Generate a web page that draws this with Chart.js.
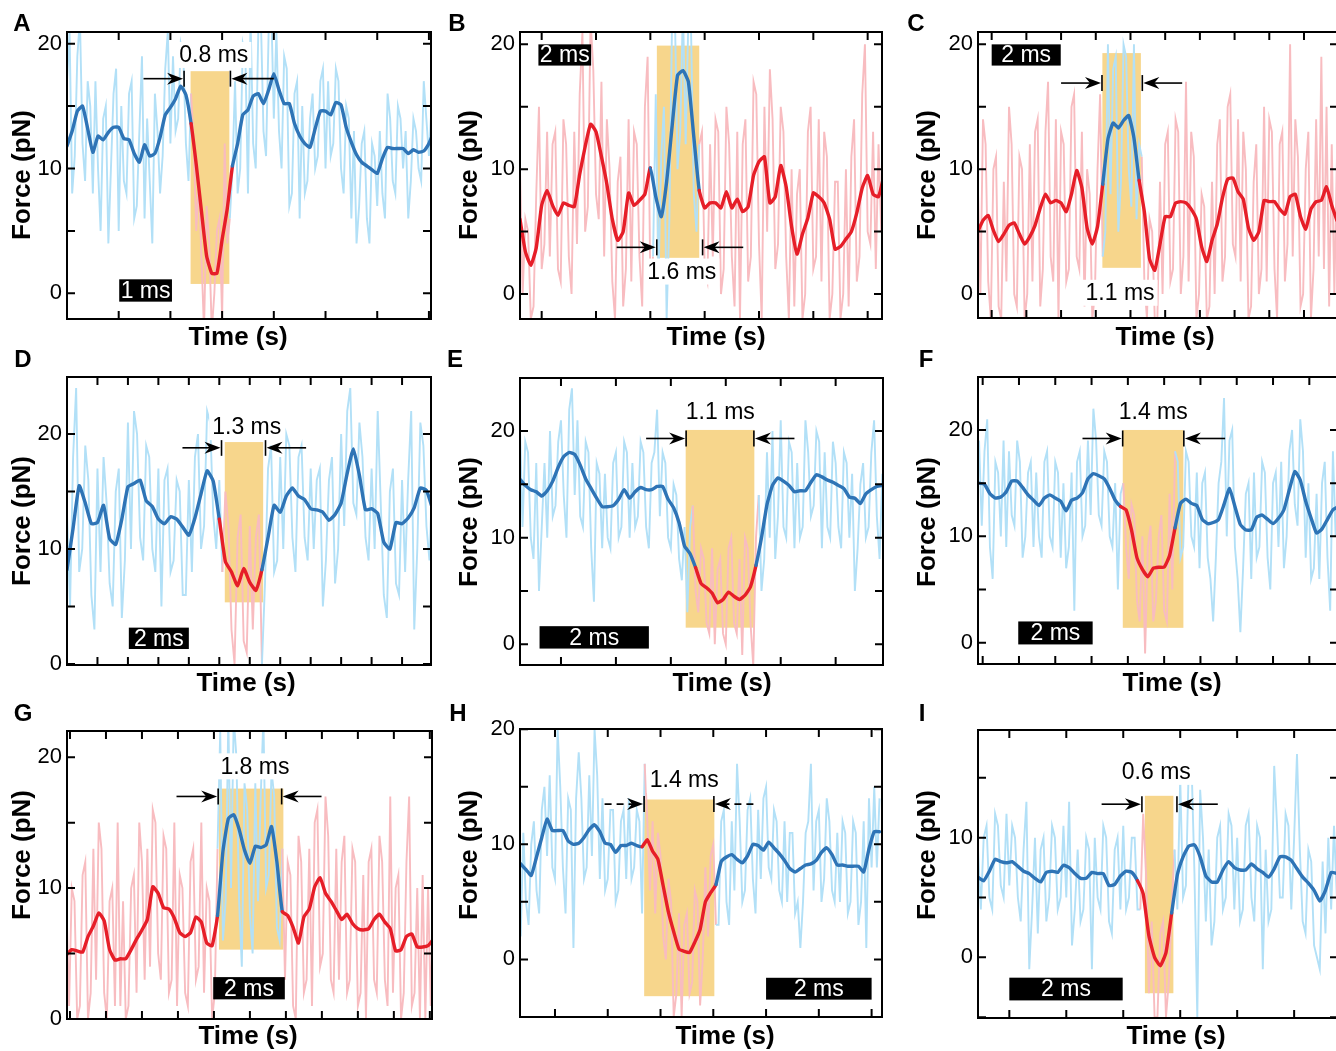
<!DOCTYPE html>
<html>
<head>
<meta charset="utf-8">
<script src="https://cdn.jsdelivr.net/npm/chart.js@4.4.1/dist/chart.umd.min.js"></script>
<style>
  body { margin: 0; background: #fff; width: 1336px; height: 1051px; overflow: hidden; position: relative; }
  canvas { position: absolute; }
</style>
</head>
<body>
<script>
// ---- force traces (pN), sampled on a uniform time grid (ms) ----
const aSmooth = [11.8,13.0,14.6,15.0,13.2,11.3,12.6,12.3,12.9,13.3,13.3,12.4,12.3,11.2,10.5,11.9,11.0,11.2,12.5,14.3,14.9,15.6,16.6,15.9,13.6,10.3,6.6,3.0,1.6,1.6,4.3,6.8,10.2,12.0,14.3,14.7,15.8,16.0,15.2,16.3,17.6,16.3,15.2,15.2,13.6,12.6,12.0,11.7,13.2,14.6,14.6,14.3,15.3,15.1,13.3,12.1,11.1,10.5,10.2,9.9,9.6,10.8,11.7,11.6,11.6,11.6,11.2,11.5,11.3,11.4,12.0,13.0];
const aRaw = [17,21,8,11,19,22,12,9,17,15, 8,17,10,5,14,15,4,10,16,18, 5,15,9,8,16,17,6,7,13,19, 6,14,9,4,16,13,8,11,18,21, 12,19,13,14,20,19,12,9,16,12, 5,9,3,-3,7,4,-3,0,5,6, -2,12,4,6,10,17,8,10,20,19, 8,22,12,10,21,22,13,11,21,23, 14,21,13,10,19,18,7,8,16,17, 6,15,8,9,14,16,10,11,17,18, 10,17,11,12,18,17,10,8,15,14, 6,13,4,7,12,13,6,4,12,11, 7,13,8,6,16,14,9,8,15,14, 10,13,6,9,14,13,10,9,17,14, 11,15,12];

const bSmooth = [6.0,3.4,2.3,3.7,7.1,8.3,7.1,6.3,7.3,7.1,7.0,9.6,11.8,13.6,13.0,11.0,8.8,6.0,4.3,5.0,8.1,7.1,7.5,8.0,10.1,7.8,6.2,9.0,13.4,17.5,17.9,17.0,12.6,8.3,6.9,7.3,7.3,6.9,8.2,6.9,7.6,6.6,7.0,9.5,10.6,11.0,7.3,7.8,10.3,8.6,5.4,3.2,4.8,6.1,8.1,7.8,7.3,6.0,3.6,3.8,4.4,5.0,6.5,8.5,9.5,8.0,7.8,9.5];
const bRaw = [10,0,6,5,-2,-1,8,15,2,4, 13,3,12,13,2,1,14,12,3,0, 13,4,16,21,5,7,22,18,8,6, 17,3,14,10,1,-2,9,11,-1,2, 14,1,13,12,3,-1,15,19,1,3, 16,1,11,15,-2,6,22,23,10,13, 23,12,22,21,8,5,12,13,2,1, 12,3,14,13,0,2,15,12,3,-1, 13,-2,12,14,1,3,17,16,4,-2, 15,5,18,14,2,4,15,13,3,-2, 10,-1,8,10,-2,0,13,15,2,3, 14,1,13,11,-2,0,9,9,-2,0, 10,-1,11,14,1,3,16,20,5,4, 13,2,12,5,11];

const cSmooth = [5.0,5.9,6.3,5.1,4.2,4.8,5.5,5.7,4.8,4.0,4.6,5.5,6.9,8.0,7.3,7.5,7.3,6.6,8.0,9.9,8.5,5.3,4.0,5.4,8.8,12.4,13.7,13.3,13.9,14.3,12.5,9.1,6.6,2.8,1.9,4.0,6.2,6.2,7.3,7.4,7.3,6.8,6.0,3.8,2.6,4.3,5.6,7.7,9.2,9.3,8.2,7.6,5.3,4.3,5.0,7.5,7.4,7.4,6.8,6.4,7.8,8.0,6.2,5.2,6.8,7.4,7.5,8.6,7.1,5.9];
const cRaw = [9,0,14,12,1,-2,10,11,-1,-2, 9,1,15,12,0,-1,11,10,-2,0, 12,1,13,14,-1,2,13,17,3,1, 14,-2,13,12,1,2,15,16,3,2, 13,-1,10,8,-2,0,10,16,3,5, 20,8,18,19,5,9,20,19,10,7, 20,6,12,11,1,-2,6,5,-2,-2, 9,0,12,13,1,2,14,13,0,3, 17,1,13,11,-2,0,8,7,-2,-1, 9,0,12,14,1,3,15,16,4,3, 14,1,13,10,-2,-1,9,12,0,2, 15,1,14,13,2,-2,12,13,1,4, 20,3,14,11,-1,0,10,13,-2,2, 14,3,19,2,15,-1,12,0,11];

const dSmooth = [8.2,11.8,15.5,14.0,12.2,12.3,13.8,10.9,10.4,12.6,15.4,15.7,16.0,14.2,13.7,12.6,12.2,12.8,12.6,11.9,11.2,12.7,14.8,16.8,15.9,12.6,8.9,8.0,6.8,8.3,7.1,6.4,8.2,11.0,13.8,13.2,14.6,15.3,14.6,14.3,13.5,13.4,13.2,12.5,13.0,14.0,16.6,18.7,16.4,13.4,13.5,13.1,10.6,10.0,12.3,12.2,12.7,13.6,15.3,15.1,13.5];
const dRaw = [13,5,18,24,8,10,19,16,6,3, 17,8,18,14,7,5,15,17,4,9, 21,10,22,20,11,9,19,18,10,8, 17,5,16,17,8,9,16,15,6,6, 16,8,18,20,10,12,22,21,13,10, 16,8,15,12,3,0,11,13,2,1, 12,3,11,13,0,7,17,19,8,9, 18,10,20,19,11,8,18,19,11,9, 17,10,16,17,5,9,16,18,7,10, 20,12,22,24,14,13,21,18,11,9, 17,10,22,14,6,4,15,17,7,6, 16,8,16,22,3,10,21,19,12,9, 17];

const eSmooth = [15.5,14.9,14.5,14.3,13.9,14.4,15.3,16.6,17.6,18.0,17.8,16.8,15.5,14.6,13.7,12.9,12.9,13.0,13.6,14.5,13.7,14.3,14.7,14.5,14.5,14.8,14.8,13.6,12.8,11.4,9.2,8.5,7.2,5.7,5.3,4.8,3.9,4.2,4.9,4.5,4.2,4.6,5.4,7.4,10.0,13.1,14.9,15.6,15.3,14.9,14.3,14.4,14.4,15.2,15.9,15.7,15.4,15.2,14.9,14.6,13.8,13.7,13.2,14.1,14.5,14.8,14.9];
const eRaw = [21,11,19,18,10,8,17,5,11,17, 10,20,12,13,19,21,14,10,22,24, 14,21,12,11,19,18,9,4,17,16, 9,16,10,9,17,18,10,11,19,18, 10,17,11,12,19,18,11,9,17,18, 22,12,18,17,10,9,15,14,8,6, 11,3,11,13,5,3,9,8,2,1, 9,0,7,8,1,0,9,10,2,1, 8,-1,10,9,2,-2,10,14,5,8, 18,10,20,8,12,21,11,10,19,18, 9,17,10,11,21,18,12,13,20,19, 9,18,11,10,19,17,11,9,18,17, 10,16,5,9,15,17,10,11,18,21, 12,8,16];

const fSmooth = [15.0,14.9,14.0,13.6,13.7,14.2,15.2,15.2,14.6,13.9,13.4,12.9,13.6,13.9,13.6,13.3,12.4,13.4,13.6,14.1,15.4,15.9,15.7,15.4,14.5,13.4,12.8,12.5,10.6,8.0,6.9,6.2,7.0,7.1,7.1,8.2,10.8,13.1,13.5,13.1,12.9,11.6,11.2,11.3,11.6,13.0,14.5,12.8,11.1,10.6,10.6,11.8,12.0,11.6,11.2,11.7,12.5,14.4,16.1,15.3,13.3,11.7,10.3,10.7,11.6,12.5,12.8];
const fRaw = [19,11,18,21,9,6,17,16,10,19, 9,18,12,11,19,17,8,10,16,17, 9,16,10,8,17,18,10,9,17,16, 8,15,7,9,16,3,17,18,10,11, 19,12,22,19,12,11,18,17,10,9, 15,5,14,15,9,6,13,12,4,2, 10,-1,9,11,2,4,10,12,3,2, 14,5,18,17,8,9,18,17,10,9, 16,7,15,16,8,6,2,8,15,17, 23,10,19,20,9,6,1,7,14,15, 6,16,8,9,17,16,8,5,15,16, 9,17,7,10,18,20,13,11,21,18, 8,15,6,7,14,6,15,17,8,3, 18,10,16];

const gSmooth = [4.9,5.3,5.2,5.1,6.3,7.1,8.1,7.5,5.3,4.5,4.6,4.6,5.3,6.1,6.8,7.6,10.1,9.6,8.5,8.4,7.7,6.6,6.3,6.6,7.8,7.4,5.8,5.6,7.9,12.8,15.3,15.6,14.5,12.9,11.9,13.2,13.1,13.3,14.7,12.0,8.2,7.9,7.0,5.8,7.8,8.4,10.1,10.8,9.6,9.0,8.3,7.6,8.0,7.3,6.9,6.8,6.9,7.6,8.0,7.4,6.9,5.2,5.3,6.3,6.5,5.5,5.5,5.6,6.1];
const gRaw = [9,1,10,9,0,1,11,12,0,2, 13,3,15,13,2,0,9,10,1,15, 1,9,0,1,10,11,2,15,12,3, 13,4,16,15,5,3,14,13,2,3, 15,1,11,10,2,1,12,13,3,4, 15,2,10,9,0,2,13,22,6,9, 23,10,23,20,9,4,18,16,8,5, 18,9,17,23,10,11,19,17,7,6, 13,3,12,11,1,0,14,12,2,3, 13,1,15,16,4,5,17,14,3,2, 13,3,12,14,2,3,13,12,1,2, 11,0,12,13,3,2,14,12,3,1, 17,2,10,11,0,2,12,17,1,2, 10,0,11,0,10,1,9];

const hSmooth = [8.3,7.8,7.3,8.9,10.6,12.2,11.2,11.2,11.2,10.3,10.0,10.1,10.6,11.3,11.7,11.1,10.1,10.0,9.3,9.9,9.9,10.1,9.9,9.8,10.4,9.4,8.7,6.4,4.1,2.4,0.9,0.7,0.6,1.5,2.6,5.0,5.8,6.5,8.5,8.9,9.1,8.7,8.4,9.0,10.0,9.9,9.5,10.2,9.7,9.2,8.6,7.9,7.6,7.9,8.2,8.3,8.6,9.3,9.7,9.1,8.2,8.2,8.1,8.1,8.1,7.6,9.6,11.1,11.1];
const hRaw = [2,11,5,3,10,12,6,4,13,15, 9,16,8,7,20,15,8,4,14,13, 1,14,18,14,7,8,16,9,20,16, 7,14,6,7,13,13,5,6,12,13, 7,14,7,8,13,12,4,17,12,6, 12,4,11,9,2,0,7,5,-5,-3, 4,-5,3,4,-3,-2,6,5,-4,0, 8,2,9,10,3,3,12,13,5,3, 12,6,17,12,5,6,13,14,7,4, 13,7,14,15,8,7,13,12,6,5, 12,5,11,11,4,5,1,5,11,12, 17,6,12,13,5,7,14,12,6,5, 11,5,12,11,4,5,12,11,3,5, 12,1,14,8,15,8,14];

const iSmooth = [6.7,6.4,7.2,8.2,8.0,7.9,8.0,7.6,7.2,7.0,6.6,6.3,7.1,7.2,7.1,7.7,7.5,7.0,6.6,6.6,7.1,7.0,7.0,6.0,6.1,6.8,7.2,7.1,6.4,5.3,1.8,0.0,-0.7,0.4,3.7,6.9,8.4,9.3,9.4,8.4,6.8,6.3,6.3,7.3,8.0,7.5,7.3,7.3,7.8,7.4,7.1,6.7,7.4,8.4,8.4,8.1,7.4,6.7,6.2,5.6,4.7,5.6,7.1,7.0];
const iRaw = [9,4,10,11,5,4,12,11,6,5, 12,6,11,10,5,3,9,13,-1,4, 10,2,9,10,3,5,11,10,4,5, 11,5,13,1,4,9,3,4,10,9, -1,10,5,4,11,10,3,2,9,10, 4,11,4,5,10,10,4,4,12,7, -3,3,-5,-5,2,3,-5,-2,4,9, 4,15,5,6,16,16,7,-5,14,10, 3,9,1,3,10,11,4,5,12,11, 4,10,3,4,11,12,5,3,11,10, -1,9,3,4,16,11,5,5,12,11, 4,10,17,9,3,2,9,8,1,0, -1,8,2,10,4,11,5];

const forceTickLabels = [0, 10, 20];
const durationLabels = ['0.8 ms', '1.6 ms', '1.1 ms', '1.3 ms', '1.1 ms', '1.4 ms', '1.8 ms', '1.4 ms', '0.6 ms'];
const scaleBarLabels = ['1 ms', '2 ms', '2 ms', '2 ms', '2 ms', '2 ms', '2 ms', '2 ms', '2 ms'];

const FONT = "'Liberation Sans', Arial, Helvetica, sans-serif";
Chart.defaults.font.family = FONT;
const COL = { blue: '#2e74b6', red: '#e61e28', lightBlue: '#b2e0f7', pink: '#f8bcc0', box: '#f7d68c' };

// panel layout (page px) and annotation positions (data units)
const panels = [
  { id: 'A', smooth: aSmooth, st0: 0, sdt: 0.1, raw: aRaw, rt0: 0, rdt: 0.05, outside: 'blue',
    frame: [67, 32, 431, 319], xr: [0, 7.04], yr: [-2.06, 20.94],
    event: [2.39, 3.16], box: [2.39, 3.14, 0.75, 17.8],
    arrowY: 17.2, arrowL: [1.48, 2.245], arrowR: [4.0, 3.18], dashed: false, label: [2.84, 19.1],
    bar: [1.01, 2.03, -0.67, 1.12], title: [238, 338], force: [23, 175], letter: [22, 24] },
  { id: 'B', smooth: bSmooth, st0: 0.6, sdt: 0.1, raw: bRaw, rt0: 0.6, rdt: 0.05, outside: 'red',
    frame: [520, 32, 882, 319], xr: [0.601, 7.264], yr: [-2.0, 20.99],
    event: [3.04, 3.9], box: [3.12, 3.9, 2.9, 19.9],
    arrowY: 3.74, arrowL: [2.38, 3.1], arrowR: [4.71, 3.98], dashed: false, label: [3.58, 1.8],
    bar: [0.94, 1.91, 18.3, 20.0], title: [716, 338], force: [470, 175], letter: [457, 24] },
  { id: 'C', smooth: cSmooth, st0: 0.6, sdt: 0.15, raw: cRaw, rt0: 0.6, rdt: 0.075, outside: 'red',
    frame: [978, 32, 1338, 318], xr: [0.606, 10.98], yr: [-1.92, 20.99],
    event: [4.17, 5.29], box: [4.19, 5.30, 2.1, 19.3],
    arrowY: 16.9, arrowL: [3.0, 4.15], arrowR: [6.49, 5.37], dashed: false, label: [4.7, 0.1],
    bar: [1.0, 2.99, 18.3, 20.0], title: [1165, 338], force: [928, 175], letter: [916, 24] },
  { id: 'D', smooth: dSmooth, st0: 0, sdt: 0.2, raw: dRaw, rt0: 0, rdt: 0.1, outside: 'blue',
    frame: [67, 377, 431, 665], xr: [0, 11.95], yr: [-0.09, 24.96],
    event: [5.07, 6.44], box: [5.18, 6.44, 5.36, 19.3],
    arrowY: 18.8, arrowL: [3.79, 5.04], arrowR: [7.85, 6.55], dashed: false, label: [5.9, 20.6],
    bar: [2.03, 4.0, 1.3, 3.16], title: [246, 684], force: [23, 521], letter: [23, 360] },
  { id: 'E', smooth: eSmooth, st0: 0.25, sdt: 0.1, raw: eRaw, rt0: 0.25, rdt: 0.05, outside: 'blue',
    frame: [520, 378, 883, 665], xr: [0.254, 6.862], yr: [-1.94, 24.97],
    event: [3.41, 4.58], box: [3.27, 4.52, 1.56, 20.1],
    arrowY: 19.3, arrowL: [2.55, 3.26], arrowR: [5.25, 4.53], dashed: false, label: [3.9, 21.8],
    bar: [0.61, 2.6, -0.4, 1.7], title: [722, 684], force: [470, 522], letter: [455, 360] },
  { id: 'F', smooth: fSmooth, st0: -0.1, sdt: 0.15, raw: fRaw, rt0: -0.1, rdt: 0.075, outside: 'blue',
    frame: [978, 377, 1338, 664], xr: [-0.129, 9.79], yr: [-2.0, 24.98],
    event: [3.875, 5.30], box: [3.86, 5.53, 1.4, 20.0],
    arrowY: 19.2, arrowL: [2.75, 3.83], arrowR: [6.68, 5.57], dashed: false, label: [4.7, 21.7],
    bar: [0.98, 3.03, -0.16, 2.0], title: [1172, 684], force: [928, 522], letter: [926, 360] },
  { id: 'G', smooth: gSmooth, st0: -0.1, sdt: 0.15, raw: gRaw, rt0: -0.1, rdt: 0.075, outside: 'red',
    frame: [67, 731, 432, 1019], xr: [-0.083, 10.06], yr: [0, 22.0],
    event: [4.09, 5.91], box: [4.14, 5.93, 5.3, 17.6],
    arrowY: 17.0, arrowL: [2.96, 4.09], arrowR: [6.99, 5.91], dashed: false, label: [5.14, 19.3],
    bar: [3.98, 5.97, 1.5, 3.2], title: [248, 1037], force: [23, 855], letter: [23, 714] },
  { id: 'H', smooth: hSmooth, st0: 0.35, sdt: 0.1, raw: hRaw, rt0: 0.35, rdt: 0.05, outside: 'blue',
    frame: [520, 729, 882, 1017], xr: [0.337, 7.197], yr: [-5.01, 20.03],
    event: [2.69, 4.03], box: [2.69, 4.02, -3.2, 13.9],
    arrowY: 13.5, arrowL: [1.94, 2.67], arrowR: [4.76, 4.03], dashed: true, label: [3.45, 15.6],
    bar: [5.0, 7.0, -3.5, -1.6], title: [725, 1037], force: [470, 855], letter: [458, 714] },
  { id: 'I', smooth: iSmooth, st0: 0.45, sdt: 0.1, raw: iRaw, rt0: 0.45, rdt: 0.05, outside: 'blue',
    frame: [978, 730, 1338, 1018], xr: [0.45, 6.77], yr: [-5.07, 19.0],
    event: [3.30, 3.88], box: [3.38, 3.88, -3.0, 13.5],
    arrowY: 12.8, arrowL: [2.62, 3.31], arrowR: [4.66, 3.96], dashed: false, label: [3.58, 15.5],
    bar: [1.0, 2.99, -3.6, -1.7], title: [1176, 1037], force: [928, 855], letter: [922, 714] }
];

function drawArrow(ctx, xTail, xTip, y, dashed) {
  const dir = Math.sign(xTip - xTail);
  ctx.lineWidth = 1.6;
  ctx.setLineDash(dashed ? [7, 5] : []);
  ctx.beginPath(); ctx.moveTo(xTail, y); ctx.lineTo(xTip - dir * 10, y); ctx.stroke();
  ctx.setLineDash([]);
  ctx.beginPath();
  ctx.moveTo(xTip, y);
  ctx.lineTo(xTip - dir * 16, y - 6);
  ctx.lineTo(xTip - dir * 11, y);
  ctx.lineTo(xTip - dir * 16, y + 6);
  ctx.closePath(); ctx.fill();
  ctx.beginPath(); ctx.moveTo(xTip + dir, y - 8); ctx.lineTo(xTip + dir, y + 8); ctx.stroke();
}

function buildPanel(p, idx) {
  const [l, t, r, b] = p.frame;
  const ox = l - 75, oy = t - 36;
  const W = r - l + 85, H = b - t + 80;
  const cv = document.createElement('canvas');
  cv.width = W; cv.height = H;
  cv.style.left = ox + 'px'; cv.style.top = oy + 'px';
  cv.style.width = W + 'px'; cv.style.height = H + 'px';
  document.body.appendChild(cv);

  const toPts = (vals, t0, dt) => vals.map((v, i) => ({ x: +(t0 + i * dt).toFixed(3), y: v }));
  const inEv = c => {
    const m = (c.p0.parsed.x + c.p1.parsed.x) / 2;
    return m >= p.event[0] && m <= p.event[1];
  };
  const outC = p.outside === 'blue' ? [COL.blue, COL.lightBlue] : [COL.red, COL.pink];
  const inC = p.outside === 'blue' ? [COL.red, COL.pink] : [COL.blue, COL.lightBlue];

  const decor = {
    id: 'decor' + p.id,
    beforeDatasetsDraw(chart) {
      const { ctx, scales: { x, y } } = chart;
      const x0 = x.getPixelForValue(p.box[0]), x1 = x.getPixelForValue(p.box[1]);
      const y0 = y.getPixelForValue(p.box[2]), y1 = y.getPixelForValue(p.box[3]);
      ctx.save();
      ctx.fillStyle = COL.box;
      ctx.fillRect(x0, y1, x1 - x0, y0 - y1);
      ctx.restore();
    },
    afterDraw(chart) {
      const { ctx, chartArea: a, scales: { x, y } } = chart;
      ctx.save();
      ctx.strokeStyle = '#000'; ctx.fillStyle = '#000';
      // frame + inward ticks
      ctx.lineWidth = 2;
      ctx.strokeRect(a.left, a.top, a.right - a.left, a.bottom - a.top);
      ctx.beginPath();
      for (let v = Math.ceil(p.yr[0] / 5) * 5; v <= p.yr[1]; v += 5) {
        const py = y.getPixelForValue(v);
        ctx.moveTo(a.left, py); ctx.lineTo(a.left + 8, py);
        ctx.moveTo(a.right, py); ctx.lineTo(a.right - 8, py);
      }
      for (let k = Math.ceil(p.xr[0]); k <= p.xr[1]; k++) {
        const px = x.getPixelForValue(k);
        ctx.moveTo(px, a.bottom); ctx.lineTo(px, a.bottom - 8);
        ctx.moveTo(px, a.top); ctx.lineTo(px, a.top + 8);
      }
      ctx.stroke();

      // duration arrows
      const ay = y.getPixelForValue(p.arrowY);
      drawArrow(ctx, x.getPixelForValue(p.arrowL[0]), x.getPixelForValue(p.arrowL[1]), ay, p.dashed);
      drawArrow(ctx, x.getPixelForValue(p.arrowR[0]), x.getPixelForValue(p.arrowR[1]), ay, p.dashed);

      // duration label
      ctx.font = '23px ' + FONT;
      ctx.textAlign = 'center'; ctx.textBaseline = 'middle';
      const lx = x.getPixelForValue(p.label[0]), ly = y.getPixelForValue(p.label[1]);
      const tw = ctx.measureText(durationLabels[idx]).width;
      ctx.fillStyle = '#fff';
      ctx.fillRect(lx - tw / 2 - 3, ly - 13, tw + 6, 26);
      ctx.fillStyle = '#000';
      ctx.fillText(durationLabels[idx], lx, ly + 1);

      // scale bar
      const bx0 = x.getPixelForValue(p.bar[0]), bx1 = x.getPixelForValue(p.bar[1]);
      const by0 = y.getPixelForValue(p.bar[2]), by1 = y.getPixelForValue(p.bar[3]);
      ctx.fillRect(bx0, by1, bx1 - bx0, by0 - by1);
      ctx.fillStyle = '#fff';
      ctx.fillText(scaleBarLabels[idx], (bx0 + bx1) / 2, (by0 + by1) / 2 + 1);

      // axis titles and panel letter
      ctx.fillStyle = '#000';
      ctx.font = 'bold 26px ' + FONT;
      ctx.fillText('Time (s)', p.title[0] - ox, p.title[1] - oy);
      ctx.save();
      ctx.translate(p.force[0] - ox, p.force[1] - oy);
      ctx.rotate(-Math.PI / 2);
      ctx.fillText('Force (pN)', 0, 0);
      ctx.restore();
      ctx.font = 'bold 24px ' + FONT;
      ctx.fillText(p.id, p.letter[0] - ox, p.letter[1] - oy);
      ctx.restore();
    }
  };

  new Chart(cv, {
    type: 'line',
    data: {
      datasets: [
        {
          data: toPts(p.raw, p.rt0, p.rdt),
          order: 2,
          borderWidth: 1.9, pointRadius: 0, tension: 0, clip: 0,
          borderColor: outC[1],
          segment: { borderColor: c => inEv(c) ? inC[1] : outC[1] }
        },
        {
          data: toPts(p.smooth, p.st0, p.sdt),
          order: 1,
          borderWidth: 3.4, pointRadius: 0, tension: 0.15, clip: 0,
          borderJoinStyle: 'round', borderCapStyle: 'round',
          borderColor: outC[0],
          segment: { borderColor: c => inEv(c) ? inC[0] : outC[0] }
        }
      ]
    },
    options: {
      responsive: false, animation: false, devicePixelRatio: 1,
      layout: { padding: { left: 0, top: 36, right: 10, bottom: 0 } },
      plugins: { legend: { display: false }, tooltip: { enabled: false } },
      scales: {
        x: {
          type: 'linear', min: p.xr[0], max: p.xr[1],
          grid: { display: false }, border: { display: false },
          ticks: { display: false },
          afterFit: s => { s.height = 44; }
        },
        y: {
          type: 'linear', min: p.yr[0], max: p.yr[1],
          grid: { display: false, drawTicks: false }, border: { display: false },
          ticks: {
            stepSize: 5, includeBounds: false, padding: 5, color: '#000',
            font: { size: 22, family: FONT },
            callback: v => forceTickLabels.includes(v) ? String(v) : ''
          },
          afterFit: s => { s.width = 75; }
        }
      }
    },
    plugins: [decor]
  });
}

panels.forEach(buildPanel);
</script>
</body>
</html>
